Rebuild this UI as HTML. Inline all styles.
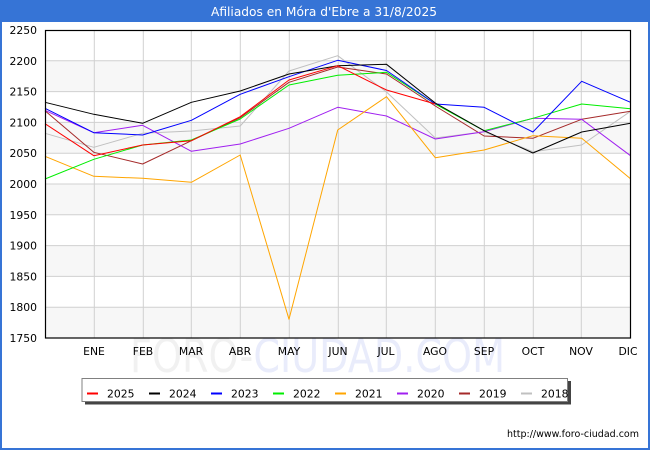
<!DOCTYPE html>
<html><head><meta charset="utf-8"><style>
html,body{margin:0;padding:0;background:#fff;}
svg{display:block;}
text{font-family:"DejaVu Sans","Liberation Sans",sans-serif;}
</style></head><body>
<svg width="650" height="450" viewBox="0 0 650 450" xmlns="http://www.w3.org/2000/svg">
<rect x="0" y="0" width="650" height="450" fill="#fff"/>
<!-- title bar -->
<rect x="0" y="0" width="650" height="22" fill="#3674d6"/>
<text x="324" y="16" font-size="12.5" fill="#fff" text-anchor="middle" textLength="226" lengthAdjust="spacingAndGlyphs">Afiliados en Móra d'Ebre a 31/8/2025</text>
<!-- outer border -->
<rect x="1" y="1" width="648" height="448" fill="none" stroke="#3674d6" stroke-width="2"/>
<rect x="0" y="0" width="650" height="22" fill="#3674d6"/>
<text x="324" y="16" font-size="12.5" fill="#fff" text-anchor="middle" textLength="226" lengthAdjust="spacingAndGlyphs">Afiliados en Móra d'Ebre a 31/8/2025</text>

<!-- watermark -->
<text x="130" y="372" font-size="46" textLength="375" lengthAdjust="spacingAndGlyphs"><tspan fill="#f1f1f1">FORO-</tspan><tspan fill="#e9ecfb">CIUDAD.COM</tspan></text>

<!-- bands -->
<g fill="#f7f7f7">
<rect x="45" y="60.8" width="585.5" height="30.8"/>
<rect x="45" y="122.4" width="585.5" height="30.8"/>
<rect x="45" y="184" width="585.5" height="30.8"/>
<rect x="45" y="245.6" width="585.5" height="30.8"/>
<rect x="45" y="307.2" width="585.5" height="30.8"/>
</g>
<!-- grid -->
<g stroke="#d0d0d0" stroke-width="1">
<line x1="45" y1="60.8" x2="630" y2="60.8"/>
<line x1="45" y1="91.6" x2="630" y2="91.6"/>
<line x1="45" y1="122.4" x2="630" y2="122.4"/>
<line x1="45" y1="153.2" x2="630" y2="153.2"/>
<line x1="45" y1="184" x2="630" y2="184"/>
<line x1="45" y1="214.8" x2="630" y2="214.8"/>
<line x1="45" y1="245.6" x2="630" y2="245.6"/>
<line x1="45" y1="276.4" x2="630" y2="276.4"/>
<line x1="45" y1="307.2" x2="630" y2="307.2"/>
<line x1="94.3" y1="30" x2="94.3" y2="338"/>
<line x1="143.3" y1="30" x2="143.3" y2="338"/>
<line x1="191.3" y1="30" x2="191.3" y2="338"/>
<line x1="240.3" y1="30" x2="240.3" y2="338"/>
<line x1="289.3" y1="30" x2="289.3" y2="338"/>
<line x1="338.3" y1="30" x2="338.3" y2="338"/>
<line x1="386.3" y1="30" x2="386.3" y2="338"/>
<line x1="435.3" y1="30" x2="435.3" y2="338"/>
<line x1="484.3" y1="30" x2="484.3" y2="338"/>
<line x1="533.3" y1="30" x2="533.3" y2="338"/>
<line x1="581.3" y1="30" x2="581.3" y2="338"/>
</g>

<!-- series -->
<g fill="none" stroke-width="1" stroke-linejoin="round">
<polyline stroke="#c0c0c0" points="45,133.3 93.8,147.3 142.6,133.3 191.4,131 240.2,126 289,71 337.7,55.7 386.5,92 435.3,138 484.1,131.7 532.9,151.7 581.7,145 630.5,111.3"/>
<polyline stroke="#a52a2a" points="45,110.7 93.8,152.3 142.6,164 191.4,140.7 240.2,117.7 289,82.3 337.7,67 386.5,74 435.3,106 484.1,136 532.9,138.3 581.7,119.3 630.5,111.3"/>
<polyline stroke="#a020f0" points="45,110.3 93.8,132.7 142.6,125.3 191.4,151.3 240.2,144 289,128.3 337.7,107.3 386.5,116 435.3,139 484.1,131.7 532.9,118.3 581.7,119.3 630.5,155.7"/>
<polyline stroke="#ffa500" points="45,156.3 93.8,176.3 142.6,178.3 191.4,182.3 240.2,155 289,319.3 337.7,130 386.5,96.7 435.3,157.7 484.1,150 532.9,135.7 581.7,138.3 630.5,178.7"/>
<polyline stroke="#00ee00" points="45,179 93.8,159.3 142.6,145 191.4,140 240.2,119 289,85 337.7,75.3 386.5,72.3 435.3,104 484.1,130.7 532.9,118.3 581.7,104 630.5,108.7"/>
<polyline stroke="#0000ff" points="45,108.3 93.8,132.7 142.6,135 191.4,120.3 240.2,94.3 289,76.7 337.7,60.3 386.5,70.5 435.3,104 484.1,107.3 532.9,132 581.7,81.3 630.5,102.3"/>
<polyline stroke="#000000" points="45,102.3 93.8,114.3 142.6,123.3 191.4,102.3 240.2,91 289,74 337.7,65.7 386.5,64.3 435.3,103 484.1,130.7 532.9,153 581.7,132 630.5,123.3"/>
<polyline stroke="#ff0000" points="45,123.7 93.8,155.7 142.6,145 191.4,140.7 240.2,116.7 289,80 337.7,65.7 386.5,90 435.3,104"/>
</g>

<!-- plot border -->
<rect x="45.5" y="30.5" width="585" height="307.5" fill="none" stroke="#000" stroke-width="1.2"/>

<!-- y labels -->
<g font-size="10.8" fill="#000" text-anchor="end">
<text x="37" y="34">2250</text>
<text x="37" y="64.8">2200</text>
<text x="37" y="95.6">2150</text>
<text x="37" y="126.4">2100</text>
<text x="37" y="157.2">2050</text>
<text x="37" y="188">2000</text>
<text x="37" y="218.8">1950</text>
<text x="37" y="249.6">1900</text>
<text x="37" y="280.4">1850</text>
<text x="37" y="311.2">1800</text>
<text x="37" y="342">1750</text>
</g>
<!-- x labels -->
<g font-size="10.8" fill="#000" text-anchor="middle">
<text x="94" y="355">ENE</text>
<text x="143" y="355">FEB</text>
<text x="191" y="355">MAR</text>
<text x="240" y="355">ABR</text>
<text x="289" y="355">MAY</text>
<text x="338" y="355">JUN</text>
<text x="386" y="355">JUL</text>
<text x="435" y="355">AGO</text>
<text x="484" y="355">SEP</text>
<text x="533" y="355">OCT</text>
<text x="581" y="355">NOV</text>
<text x="628" y="355">DIC</text>
</g>

<!-- legend -->
<rect x="85" y="381" width="486" height="23.5" fill="#444"/>
<rect x="82" y="378.5" width="485.5" height="23" fill="#fff" stroke="#808080" stroke-width="1"/>
<g stroke-width="2">
<line x1="87" y1="393.5" x2="98" y2="393.5" stroke="#ff0000"/>
<line x1="149" y1="393.5" x2="160" y2="393.5" stroke="#000000"/>
<line x1="211" y1="393.5" x2="222" y2="393.5" stroke="#0000ff"/>
<line x1="273" y1="393.5" x2="284" y2="393.5" stroke="#00ee00"/>
<line x1="335" y1="393.5" x2="346" y2="393.5" stroke="#ffa500"/>
<line x1="397" y1="393.5" x2="408" y2="393.5" stroke="#a020f0"/>
<line x1="459" y1="393.5" x2="470" y2="393.5" stroke="#a52a2a"/>
<line x1="521" y1="393.5" x2="532" y2="393.5" stroke="#c0c0c0"/>
</g>
<g font-size="10.8" fill="#000">
<text x="107" y="397.5">2025</text>
<text x="169" y="397.5">2024</text>
<text x="231" y="397.5">2023</text>
<text x="293" y="397.5">2022</text>
<text x="355" y="397.5">2021</text>
<text x="417" y="397.5">2020</text>
<text x="479" y="397.5">2019</text>
<text x="541" y="397.5">2018</text>
</g>

<!-- footer -->
<text x="507" y="437" font-size="9.5" fill="#000" textLength="132" lengthAdjust="spacingAndGlyphs">http://www.foro-ciudad.com</text>
</svg>
</body></html>
